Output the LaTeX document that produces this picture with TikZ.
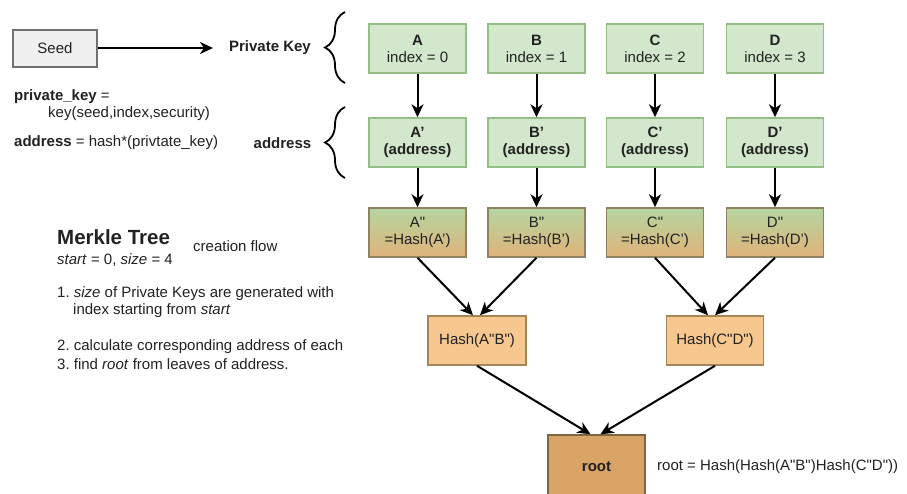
\documentclass[tikz,border=0pt]{standalone}
\usepackage{fontspec}
\setmainfont{Liberation Sans}
\usetikzlibrary{arrows.meta,decorations.pathreplacing,calc}
\definecolor{gfill}{HTML}{D2E7CC}
\definecolor{gdraw}{HTML}{94BE85}
\definecolor{gtop}{HTML}{B5D5A0}
\definecolor{obot}{HTML}{E0B37A}
\definecolor{mdraw}{HTML}{8E8262}
\definecolor{ofill}{HTML}{F6C78E}
\definecolor{odraw}{HTML}{A38758}
\definecolor{rfill}{HTML}{D9A466}
\definecolor{rdraw}{HTML}{7C6646}
\definecolor{sfill}{HTML}{F0F0F0}
\definecolor{sdraw}{HTML}{707070}
\definecolor{txt}{HTML}{222222}
\newcommand{\dq}{\textquotedbl}
\frenchspacing
\begin{document}
\begin{tikzpicture}[x=1pt,y=-1pt,
  every node/.style={font=\fontsize{15}{17}\selectfont, text=txt},
  box/.style={minimum width=97pt,minimum height=49pt,inner sep=0pt,align=center,line width=1.5pt},
  gbox/.style={box,fill=gfill,draw=gdraw},
  mbox/.style={box,draw=mdraw,top color=gtop,bottom color=obot,middle color=gtop!50!obot},
  hbox/.style={box,fill=ofill,draw=odraw},
  rbox/.style={box,fill=rfill,draw=rdraw,minimum height=64pt},
  arr/.style={line width=2pt,-{Stealth[length=13pt,width=12pt,inset=4pt]}},
  lbl/.style={anchor=west,inner sep=0pt},
  brc/.style={decorate,decoration={brace,amplitude=20pt},line width=1.8pt}
]
\useasboundingbox (0,0) rectangle (907,493);
\clip (0,0) rectangle (907,493);
\fill[white] (0,0) rectangle (907,493);

% seed
\node[box,fill=sfill,draw=sdraw,line width=2pt,minimum width=84pt,minimum height=37pt] (seed) at (55,48) {Seed};
\node[inner sep=0pt,font=\fontsize{15}{17}\selectfont\bfseries] (pk) at (270,48) {Private Key};
\coordinate (pkw) at (213,48);
\draw[arr] (seed.east) -- (pkw);
\node[inner sep=0pt,font=\fontsize{15}{17}\selectfont\bfseries] (addr) at (282.5,143) {address};

% braces
\coordinate (b1t) at (345,12); \coordinate (b1b) at (345,83);
\coordinate (b2t) at (345,107); \coordinate (b2b) at (345,178);
\draw[brc] (b1b) -- (b1t);
\draw[brc] (b2b) -- (b2t);

% formulas
\node[lbl] (f1) at (14,97) {\textbf{private\_key} =};
\node[lbl] (f2) at (48,114) {key(seed,index,security)};
\node[lbl] (f3) at (14,143) {\textbf{address} = hash*(privtate\_key)};

% description
\node[lbl,font=\fontsize{20.5}{22}\selectfont\bfseries] (mt) at (57,237) {Merkle Tree};
\node[lbl] (cf) at (193,246) {creation flow};
\node[lbl] (ss) at (57,260) {\textit{start} = 0, \textit{size} = 4};
\node[lbl] (d1) at (57,294) {1. \textit{size} of Private Keys are generated with};
\node[lbl] (d1b) at (73,311) {index starting from \textit{start}};
\node[lbl] (d2) at (57,347) {2. calculate corresponding address of each};
\node[lbl] (d3) at (57,364) {3. find \textit{root} from leaves of address.};

% row 1
\node[gbox] (a1) at (417.5,48.5) {\textbf{A}\\index = 0};
\node[gbox] (b1) at (536.5,48.5) {\textbf{B}\\index = 1};
\node[gbox] (c1) at (655,48.5) {\textbf{C}\\index = 2};
\node[gbox] (e1) at (775,48.5) {\textbf{D}\\index = 3};
% row 2
\node[gbox] (a2) at (417.5,142.5) {\textbf{A'}\\\textbf{(address)}};
\node[gbox] (b2) at (536.5,142.5) {\textbf{B'}\\\textbf{(address)}};
\node[gbox] (c2) at (655,142.5) {\textbf{C'}\\\textbf{(address)}};
\node[gbox] (e2) at (775,142.5) {\textbf{D'}\\\textbf{(address)}};
% row 3
\node[mbox] (a3) at (417.5,232.5) {A\dq\\=Hash(A')};
\node[mbox] (b3) at (536.5,232.5) {B\dq\\=Hash(B')};
\node[mbox] (c3) at (655,232.5) {C\dq\\=Hash(C')};
\node[mbox] (e3) at (775,232.5) {D\dq\\=Hash(D')};
% hash row
\node[hbox,minimum width=98pt] (hab) at (477,340.5) {Hash(A\dq B\dq)};
\node[hbox] (hcd) at (715,340.5) {Hash(C\dq D\dq)};
% root
\node[rbox] (root) at (596.5,467) {\textbf{root}};
\node[lbl] (rf) at (657,467) {root = Hash(Hash(A\dq B\dq)Hash(C\dq D\dq))};

% arrows
\foreach \n in {a,b,c,e}{
  \draw[arr] (\n1.south) -- (\n2.north);
  \draw[arr] (\n2.south) -- (\n3.north);
}
\draw[arr] (a3.south) -- ([xshift=-4pt]hab.north);
\draw[arr] (b3.south) -- ([xshift=3pt]hab.north);
\draw[arr] (c3.south) -- ([xshift=-7pt]hcd.north);
\draw[arr] (e3.south) -- ([xshift=0pt]hcd.north);
\draw[arr] (hab.south) -- ([xshift=-6pt]root.north);
\draw[arr] (hcd.south) -- ([xshift=4pt]root.north);
\end{tikzpicture}
\end{document}
